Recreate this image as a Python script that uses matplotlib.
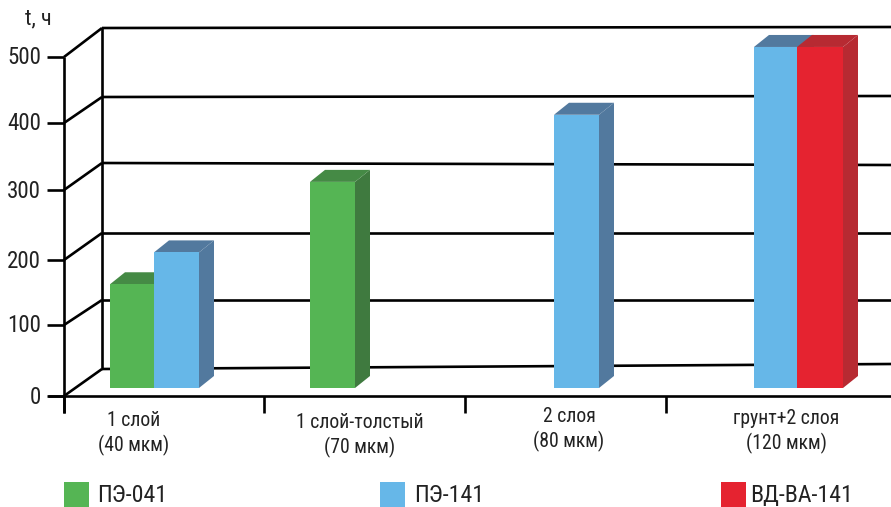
#!/usr/bin/env python3
"""Pseudo-3D grouped bars: t, h per coating system, drawn in pixel-like x units."""

import logging

import matplotlib
matplotlib.use("Agg")
import matplotlib.pyplot as plt
from matplotlib.patches import Polygon, Rectangle

logging.getLogger("matplotlib.font_manager").setLevel(logging.ERROR)

categories = ["1 слой\n(40 мкм)", "1 слой-толстый\n(70 мкм)", "2 слоя\n(80 мкм)", "грунт+2 слоя\n(120 мкм)"]
series_names = ["ПЭ-041", "ПЭ-141", "ВД-ВА-141"]
pe041 = [153, 304, None, None]
pe141 = [200, None, 403, 503]
vdva141 = [None, None, None, 503]
y_ticks = [0, 100, 200, 300, 400, 500]

# layout, in reference pixels
W, H = 891, 507
PX_PER_UNIT = 0.678
Y0_PX = 396
BASE_PX = 388
DEPTH_X, DEPTH_Y = 15, 12
BAR_LEFT = {
    "ПЭ-041": [110, 310, None, None],
    "ПЭ-141": [154, None, 554, 754],
    "ВД-ВА-141": [None, None, None, 797],
}
BAR_WIDTH = {"ПЭ-041": 45, "ПЭ-141": 45, "ВД-ВА-141": 46}
FRONT = {"ПЭ-041": "#55b554", "ПЭ-141": "#66b7e8", "ВД-ВА-141": "#e52330"}
SIDE = {"ПЭ-041": "#3f7a3f", "ПЭ-141": "#52799e", "ВД-ВА-141": "#b72a32"}
TOP = {"ПЭ-041": "#458a45", "ПЭ-141": "#52799e", "ВД-ВА-141": "#b72a32"}
FRONT_GRID_PX = [396, 325, 260, 190, 123, 57]
BACK_LEFT_PX = [369, 300, 233, 163, 97, 28]
BACK_RIGHT_PX = [364, 300, 233, 165, 96, 27]
CAT_TICKS = [64, 264, 465, 666]
CAT_LABEL_X = [134, 360, 569, 786]
CAT_LABEL_Y = [[420, 445], [422, 447], [416, 441], [418, 443]]
LEGEND_X = [64, 380, 721]
LEGEND_TEXT_X = [97, 414, 750]

FONT = ["Roboto Condensed", "Liberation Sans Narrow", "Roboto", "DejaVu Sans"]
TEXT = "#222222"


def py(px):
    # pixel row to axis value
    return (Y0_PX - px) / PX_PER_UNIT


def draw_bar(ax, name, left, value):
    width = BAR_WIDTH[name]
    base = py(BASE_PX)
    top = base + value
    dy = DEPTH_Y / PX_PER_UNIT
    ax.bar(left, value, width=width, bottom=base, align="edge", color=FRONT[name], zorder=5)
    ax.add_patch(Polygon(
        [(left + width, base), (left + width + DEPTH_X, base + dy),
         (left + width + DEPTH_X, top + dy), (left + width, top)],
        closed=True, facecolor=SIDE[name], edgecolor="none", zorder=4))
    ax.add_patch(Polygon(
        [(left, top), (left + DEPTH_X, top + dy),
         (left + width + DEPTH_X, top + dy), (left + width, top)],
        closed=True, facecolor=TOP[name], edgecolor="none", zorder=4))


def main():
    plt.rcParams["font.family"] = FONT
    fig = plt.figure(figsize=(W / 100, H / 100), dpi=100, facecolor="white")
    ax = fig.add_axes([0, 0, 1, 1])
    ax.set_xlim(0, W)
    ax.set_ylim(py(H), py(0))
    ax.axis("off")

    line = dict(color="black", lw=1.9, solid_capstyle="butt", zorder=2)

    # back wall and floor lines
    ax.plot([102, 102], [py(BACK_LEFT_PX[0]), py(BACK_LEFT_PX[-1])], **line)
    for fr, bl, br in zip(FRONT_GRID_PX, BACK_LEFT_PX, BACK_RIGHT_PX):
        ax.plot([64, 102], [py(fr), py(bl)], **line)
        ax.plot([102, W], [py(bl), py(br)], **line)

    # front axes
    ax.plot([64, 64], [py(57), py(413)], **line)
    ax.plot([48, W], [py(396), py(396)], **line)
    for fr, val in zip(FRONT_GRID_PX, y_ticks):
        ax.plot([47, 64], [py(fr), py(fr)], **line)
        ax.text(41, py(fr + 1), str(val), ha="right", va="center", fontsize=16.6, color=TEXT)
    for x in CAT_TICKS:
        ax.plot([x, x], [py(396), py(413)], **line)
    ax.text(38, py(19), "t, ч", ha="center", va="center", fontsize=16, color=TEXT)

    for label, x, (y1, y2) in zip(categories, CAT_LABEL_X, CAT_LABEL_Y):
        first, second = label.split("\n")
        ax.text(x, py(y1), first, ha="center", va="center", fontsize=14.2, color=TEXT)
        ax.text(x, py(y2), second, ha="center", va="center", fontsize=14.2, color=TEXT)

    for name, values in zip(series_names, [pe041, pe141, vdva141]):
        for left, value in zip(BAR_LEFT[name], values):
            if value is not None:
                draw_bar(ax, name, left, value)

    for name, x, tx in zip(series_names, LEGEND_X, LEGEND_TEXT_X):
        ax.add_patch(Rectangle((x, py(507)), 25, 25 / PX_PER_UNIT, facecolor=FRONT[name],
                               edgecolor="none", zorder=3))
        ax.text(tx, py(495), name, ha="left", va="center", fontsize=17.2, color=TEXT)

    fig.savefig("out.png", dpi=100, facecolor="white")


if __name__ == "__main__":
    main()
